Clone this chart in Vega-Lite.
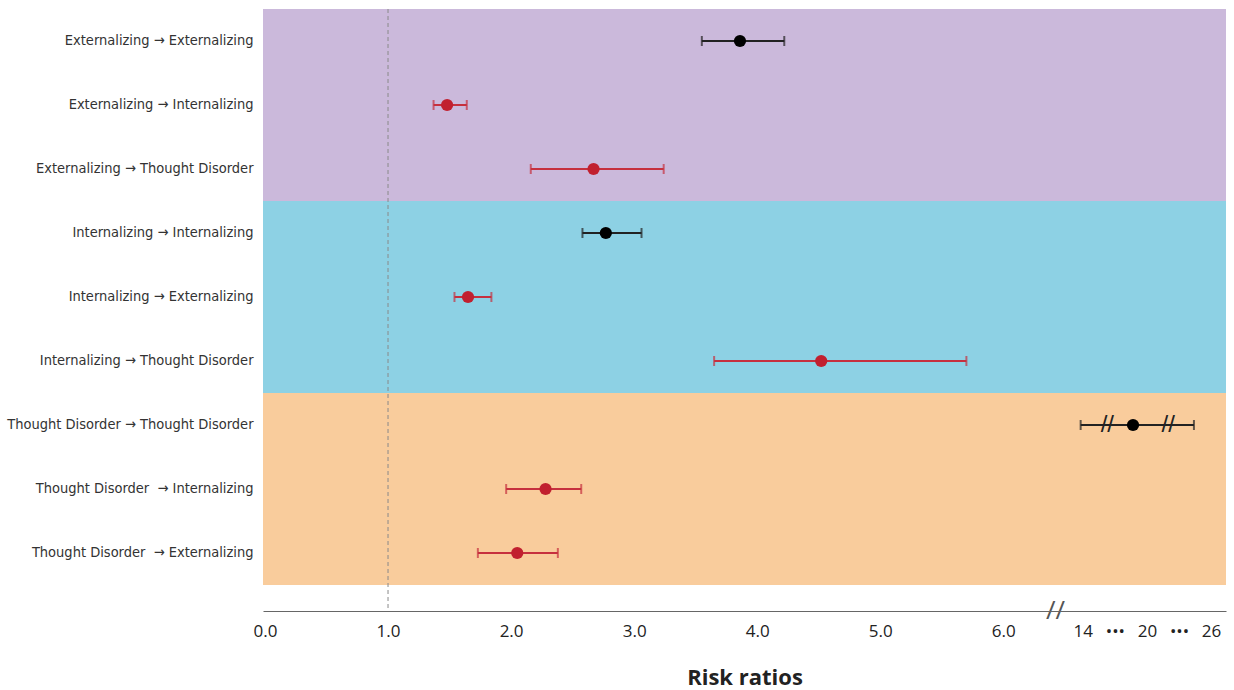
{
  "$schema": "https://vega.github.io/schema/vega-lite/v6.json",
  "width": 963,
  "height": 602,
  "padding": {"left": 6, "top": 8, "right": 8, "bottom": 5},
  "background": "white",
  "config": {"view": {"stroke": null}},
  "datasets": {
    "rr": [
      {"label": "Externalizing → Externalizing", "group": "Externalizing", "kind": "same", "est": 3.86, "lo": 3.55, "hi": 4.22},
      {"label": "Externalizing → Internalizing", "group": "Externalizing", "kind": "cross", "est": 1.48, "lo": 1.37, "hi": 1.64},
      {"label": "Externalizing → Thought Disorder", "group": "Externalizing", "kind": "cross", "est": 2.67, "lo": 2.16, "hi": 3.24},
      {"label": "Internalizing → Internalizing", "group": "Internalizing", "kind": "same", "est": 2.77, "lo": 2.58, "hi": 3.06},
      {"label": "Internalizing → Externalizing", "group": "Internalizing", "kind": "cross", "est": 1.65, "lo": 1.54, "hi": 1.84},
      {"label": "Internalizing → Thought Disorder", "group": "Internalizing", "kind": "cross", "est": 4.52, "lo": 3.65, "hi": 5.70},
      {"label": "Thought Disorder → Thought Disorder", "group": "Thought Disorder", "kind": "same", "est": 18.7, "lo": 13.8, "hi": 24.4},
      {"label": "Thought Disorder\u00a0 → Internalizing", "group": "Thought Disorder", "kind": "cross", "est": 2.28, "lo": 1.96, "hi": 2.57},
      {"label": "Thought Disorder\u00a0 → Externalizing", "group": "Thought Disorder", "kind": "cross", "est": 2.05, "lo": 1.73, "hi": 2.38}
    ],
    "breaks": [
      {"label": "Thought Disorder → Thought Disorder", "value": 16.3},
      {"label": "Thought Disorder → Thought Disorder", "value": 22.0}
    ],
    "ref": [{"rr": 1}]
  },
  "layer": [
    {
      "data": {"name": "rr"},
      "mark": {"type": "rect"},
      "encoding": {
        "y": {"field": "label", "type": "nominal", "sort": null,
          "scale": {"range": [0, 576], "paddingInner": 0, "paddingOuter": 0},
          "axis": {"title": null, "domain": false, "ticks": false, "labelFontSize": 14.5, "labelFont": "DejaVu Sans Condensed, sans-serif", "labelColor": "#333333", "labelPadding": 10, "labelLimit": 0}},
        "x": {"datum": -0.016, "type": "quantitative", "title": "Risk ratios",
          "scale": {"domain": [-0.016, 6.42, 11.4, 27.4], "range": [0, 792, 792, 963], "nice": false, "zero": false},
          "axis": {
            "titleFont": "Open Sans", "titleFontSize": 22, "titleFontWeight": "bold", "titleColor": "#222222", "titlePadding": 28,
            "values": [0, 1, 2, 3, 4, 5, 6, 6.42, 14, 17, 20, 23, 26],
            "labelExpr": "datum.value == 6.42 ? '//' : datum.value < 7 ? format(datum.value, '.1f') : (datum.value == 17 || datum.value == 23) ? '•••' : format(datum.value, 'd')",
            "ticks": false, "grid": false, "domainColor": "#666666", "domainWidth": 1,
            "labelFont": "Open Sans", "labelColor": {"condition": {"test": "datum.value == 6.42", "value": "#555555"}, "value": "#222222"},
            "labelFontSize": {"condition": {"test": "datum.value == 6.42", "value": 26}, "value": 17},
            "labelPadding": {"condition": {"test": "datum.value == 6.42", "value": -14}, "value": 12},
            "labelOverlap": false, "labelFlush": false, "labelBound": false
          }},
        "x2": {"datum": 27.4},
        "color": {"field": "group", "type": "nominal",
          "scale": {"domain": ["Externalizing", "Internalizing", "Thought Disorder"], "range": ["#CBB9DB", "#8DD1E4", "#F9CC9C"]},
          "legend": null}
      }
    },
    {
      "data": {"name": "ref"},
      "mark": {"type": "rule", "strokeDash": [4, 3], "color": "#8a8a8a", "strokeWidth": 1},
      "encoding": {
        "x": {"field": "rr", "type": "quantitative", "title": "Risk ratios", "scale": {"domain": [-0.016, 6.42, 11.4, 27.4], "range": [0, 792, 792, 963], "nice": false, "zero": false}}
      }
    },
    {
      "data": {"name": "rr"},
      "mark": {"type": "errorbar", "ticks": {"size": 10, "thickness": 2}, "thickness": 2},
      "encoding": {
        "y": {"field": "label", "type": "nominal", "sort": null},
        "x": {"field": "lo", "type": "quantitative", "title": "Risk ratios", "scale": {"domain": [-0.016, 6.42, 11.4, 27.4], "range": [0, 792, 792, 963], "nice": false, "zero": false}},
        "x2": {"field": "hi"},
        "color": {"field": "kind", "type": "nominal", "scale": {"domain": ["same", "cross"], "range": ["#222222", "#C6303E"]}, "legend": null}
      }
    },
    {
      "data": {"name": "rr"},
      "mark": {"type": "point", "filled": true, "size": 150, "opacity": 1},
      "encoding": {
        "y": {"field": "label", "type": "nominal", "sort": null},
        "x": {"field": "est", "type": "quantitative", "title": "Risk ratios", "scale": {"domain": [-0.016, 6.42, 11.4, 27.4], "range": [0, 792, 792, 963], "nice": false, "zero": false}},
        "color": {"field": "kind", "type": "nominal", "scale": {"domain": ["same", "cross"], "range": ["#000000", "#C1202F"]}, "legend": null}
      }
    },
    {
      "data": {"name": "breaks"},
      "mark": {"type": "text", "text": "//", "fontSize": 24, "font": "Liberation Sans", "color": "#222222"},
      "encoding": {
        "y": {"field": "label", "type": "nominal", "sort": null},
        "x": {"field": "value", "type": "quantitative", "title": "Risk ratios", "scale": {"domain": [-0.016, 6.42, 11.4, 27.4], "range": [0, 792, 792, 963], "nice": false, "zero": false}}
      }
    }
  ],
  "resolve": {"scale": {"color": "independent"}}
}
